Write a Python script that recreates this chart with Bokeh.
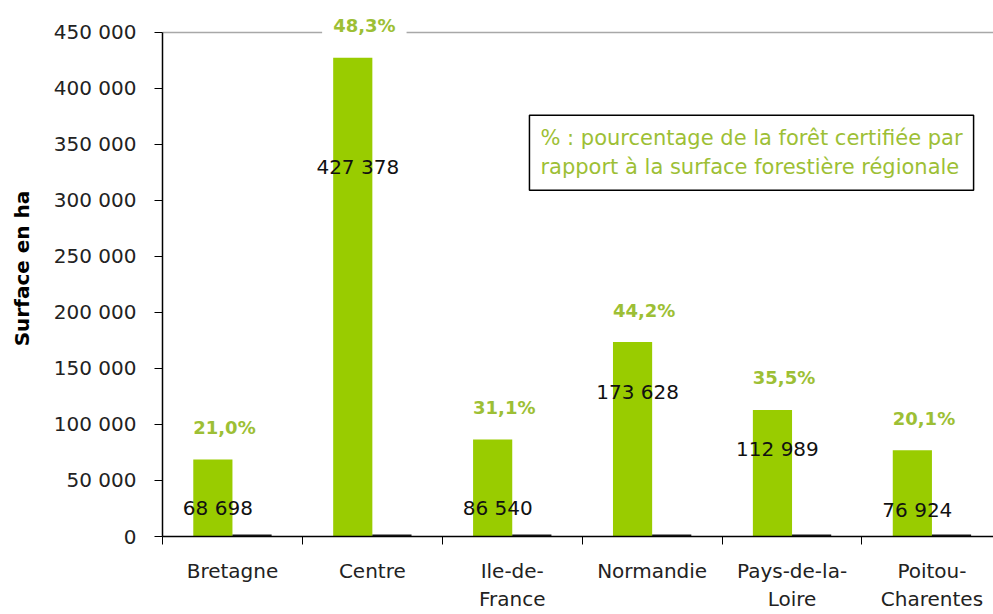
import numpy as np
from bokeh.plotting import figure
from bokeh.models import FixedTicker, ColumnDataSource, Label, Range1d
from bokeh.core.properties import value
from bokeh.embed import file_html
from bokeh.resources import INLINE

# ---- data ----
regions = ["Bretagne", "Centre", "Ile-de-\nFrance", "Normandie", "Pays-de-la-\nLoire", "Poitou-\nCharentes"]
surface_certifiee = [68698, 427378, 86540, 173628, 112989, 76924]
autre_serie = [1800, 1800, 1800, 1800, 1800, 1800]
pourcentages = ["21,0%", "48,3%", "31,1%", "44,2%", "35,5%", "20,1%"]
valeurs_txt = ["68 698", "427 378", "86 540", "173 628", "112 989", "76 924"]
valeurs_pos = [25800, 329700, 25800, 129200, 78400, 24100]
y_ticks = [0, 50000, 100000, 150000, 200000, 250000, 300000, 350000, 400000, 450000]
y_tick_labels = ["0", "50 000", "100 000", "150 000", "200 000", "250 000",
                 "300 000", "350 000", "400 000", "450 000"]
note = "% : pourcentage de la forêt certifiée par\nrapport à la surface forestière régionale"

GREEN = "#99cc00"
TXT_GREEN = "#9dbf35"
FONT = "DejaVu Sans"

idx = np.arange(len(regions))
bar_w = 0.28
src = ColumnDataSource(dict(
    x=idx,
    xg=idx - bar_w / 2,
    xd=idx + bar_w / 2,
    top=surface_certifiee,
    autre=autre_serie,
    pct=pourcentages,
    vtxt=valeurs_txt,
    vpos=valeurs_pos,
))

y_max = y_ticks[-1]
# frame extends ~32px above the top tick so that the top label is not clipped
p = figure(width=993, height=614, output_backend="svg", toolbar_location=None,
           x_range=Range1d(-0.5, 5.44), y_range=Range1d(0, y_max * 1.0634),
           min_border_left=162, min_border_right=0, min_border_top=0, min_border_bottom=77)
p.outline_line_color = None
p.background_fill_color = "white"
p.border_fill_color = "white"
p.xgrid.visible = False
p.ygrid.ticker = FixedTicker(ticks=[y_max])
p.ygrid.grid_line_color = "#a8a8a8"
p.ygrid.grid_line_width = 1.5

p.vbar(x="xg", top="top", width=bar_w, source=src, fill_color=GREEN, line_color=None)
p.vbar(x="xd", top="autre", width=bar_w, source=src, fill_color="#1a1a1a", line_color=None)

# value labels (black)
p.text(x="xg", y="vpos", text="vtxt", source=src, x_offset=5,
       text_align="center", text_baseline="middle",
       text_font=value(FONT), text_font_size="20px", text_color="#111111")

# percentage labels (green, bold, white background)
p.text(x="x", y="top", text="pct", source=src, x_offset=-8, y_offset=-32,
       text_align="center", text_baseline="middle",
       text_font=value(FONT), text_font_size="18px", text_font_style="bold",
       text_color=TXT_GREEN, background_fill_color="white", padding=11)

# note box
p.add_layout(Label(x=2.123, y=376000, text=note, anchor="top_left",
                   text_font=FONT, text_font_size="21px", text_color=TXT_GREEN,
                   text_align="left", border_line_color="black", border_line_width=1.5,
                   background_fill_color="white", padding=11))

# x axis
xa = p.xaxis[0]
xa.ticker = FixedTicker(ticks=list(idx), minor_ticks=[i - 0.5 for i in range(len(regions) + 1)])
xa.major_label_overrides = {int(i): r for i, r in zip(idx, regions)}
xa.major_tick_out = 0
xa.major_tick_in = 0
xa.minor_tick_out = 8
xa.minor_tick_in = 0
xa.minor_tick_line_color = "black"
xa.axis_line_color = "black"
xa.axis_line_width = 1.5
xa.major_label_text_font = FONT
xa.major_label_text_font_size = "20px"
xa.major_label_text_color = "#222222"
xa.major_label_standoff = 14

# y axis
ya = p.yaxis[0]
ya.ticker = FixedTicker(ticks=y_ticks)
ya.bounds = (0, y_max)
ya.major_label_overrides = {t: l for t, l in zip(y_ticks, y_tick_labels)}
ya.major_tick_out = 8
ya.major_tick_in = 0
ya.minor_tick_line_color = None
ya.axis_line_color = "black"
ya.axis_line_width = 1.5
ya.major_tick_line_color = "black"
ya.major_label_text_font = FONT
ya.major_label_text_font_size = "20px"
ya.major_label_text_color = "#222222"
ya.major_label_standoff = 18
ya.axis_label = "Surface en ha"
ya.axis_label_text_font = FONT
ya.axis_label_text_font_size = "20px"
ya.axis_label_text_font_style = "bold"
ya.axis_label_text_color = "black"
ya.axis_label_standoff = 17

open("out.html", "w").write(file_html(p, INLINE))
